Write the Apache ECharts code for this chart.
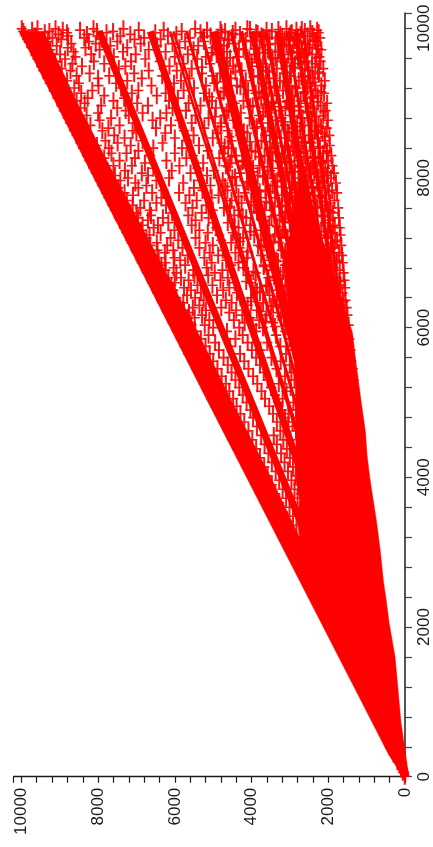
<!DOCTYPE html>
<html><head><meta charset="utf-8">
<style>html,body{margin:0;padding:0;background:#fff}#c{width:433px;height:847px}</style>
<script src="https://cdn.jsdelivr.net/npm/echarts@6/dist/echarts.min.js"></script>
</head><body><div id="c"></div>
<script>
// Each row: n read along the vertical axis, then phi values read along the horizontal axis
const xTicks = [0,2000,4000,6000,8000,10000];
const rows = [
[9992,9988,9580,9110,8120,7340,5470,4110,3090,2470],
[9975,9720,8920,8470,6940,6290,5160,4420,3610,2830,2290],
[9958,9951,9270,8030,7610,5820,4690,3470,2610],
[9941,9390,8810,7780,6510,5330,4780,3880,2950,2250],
[9918,9913,9030,8290,7160,5960,4300,3250,2720],
[9897,9640,8780,7420,6180,5070,3740,3020,2390,2540],
[9871,9190,8360,6800,5610,4870,3530,2880,2210],
[9852,9846,8960,7900,7050,6370,4590,3660,3140],
[9824,9310,8240,7500,5730,5240,4020,2760,2330],
[9795,9480,8700,8060,6890,6060,4450,3380,2600],
[9766,9080,7680,6460,5390,4720,3160,2910,2290],
[9739,9734,8790,8330,7240,5880,5010,3790,2500],
[9712,9250,7960,6680,5510,4210,3570,2680,2180],
[9686,9460,8640,7350,6240,4640,3310,2820],
[9651,8990,8180,7020,5660,4910,3920,3040,2420],
[9618,9330,8590,7590,6000,5190,4370,2640,2230],
[9590,9585,8860,6770,5420,4060,3450,2960],
[9557,9120,8110,7140,6390,4730,3210,2560,2200],
[9526,8670,7840,5780,5080,3700,2870,2340],
[9493,9270,8420,7290,6140,4480,3990,3080],
[9461,8950,7460,5560,4620,3340,2700,2130],
[9434,9429,8720,6680,5950,4260,3620,2520],
[9397,9100,8220,7060,5290,4820,3140,2240],
[9364,8560,7710,6330,5020,3830,2970,2610],
[9331,9180,8000,6860,5620,4540,3420,2400],
[9298,8810,7240,5840,4150,3260,2770,2090],
[9265,9259,8500,7530,6020,4970,3690,2470],
[9233,8880,7990,6610,5190,4380,3010,2180],
[9201,8620,7400,5500,4700,3540,2840,2570],
[9168,9000,8150,6950,5770,4090,3180,2330],
[9132,8440,7120,6240,5240,3890,2650,2110],
[9100,8780,7840,6470,4560,3350,2930,2280],
[9066,9061,8270,7320,5920,4810,3750,2460],
[9030,8560,7600,6150,5030,4210,3060,2720],
[8998,8350,6980,5640,4440,3460,2590,2030],
[8966,8740,7920,6700,5330,3970,2890,2200],
[8935,8460,7500,6060,4930,3640,3120,2390],
[8900,8895,7280,5710,4600,3280,2770,2070],
[8868,8620,8000,6840,6220,4280,3510,2530],
[8834,8300,7200,5460,4710,3810,2980,2130],
[8800,8480,7660,6380,5120,4050,3220,2670],
[8771,7960,6580,5880,4470,3370,2440,2010],
[8735,8730,8390,7040,5560,4790,3570,2810],
[8702,8200,7440,6100,4350,3130,2620,2250],
[8666,8510,7730,6490,5230,3920,2930,2040],
[8630,7890,7100,5760,4620,3450,2730,2340],
[8601,8340,7000,6250,4880,4110,3020,2150],
[8569,8564,7580,5510,4300,3640,2510,1970],
[8534,8220,7310,6000,5010,3240,2800,2270],
[8498,7810,6840,5680,4520,3740,2960,2090],
[8467,8280,7490,6320,4790,3380,2600,2440],
[8433,8030,7150,5370,4170,3120,2700,1960],
[8399,8394,7720,6560,5810,4610,3520,2220],
[8362,8140,6950,5140,4000,2870,2460,2040],
[8330,7650,7260,6000,4730,3300,2640,2130],
[8298,8020,6640,5530,4410,3660,2990,1920],
[8265,7840,7040,5700,4840,3210,2390,2260],
[8232,8227,7440,6220,4220,3450,2800,2000],
[8199,7900,6780,5260,4560,3080,2570,2160],
[8163,7600,7120,5880,4670,3790,2880,1890],
[8130,7980,6560,5410,3960,3290,2450,2080],
[8097,7760,7300,6080,4980,3510,2690,2210],
[8065,8060,6860,5590,4290,3010,2360,1850],
[8032,7560,6700,5160,3840,3160,2610,2040],
[7999,7860,7220,6150,4500,3580,2780,1930],
[7966,7420,6480,5340,4750,3330,2510,2160],
[7933,7690,7030,5780,4080,2920,2290,1800],
[7900,7895,6740,5070,4400,3450,2660,2010],
[7868,7470,6950,5500,3900,3110,2400,2220],
[7834,7680,6300,5280,4630,3640,2830,1900],
[7801,7310,6590,5890,4180,2980,2560,1770],
[7768,7530,7090,5620,4860,3200,2350,2060],
[7735,7730,6350,5040,3760,3390,2700,2160],
[7699,7250,6800,5430,4520,3040,2470,1840],
[7666,7410,6480,5720,4260,3520,2880,1950],
[7633,7100,6230,5180,3940,3210,2600,2090],
[7600,7370,6900,5540,4720,2930,2280,1740],
[7568,7563,6650,5010,4340,3660,2790,2000],
[7533,7000,6070,5300,3830,3120,2520,1880],
[7500,7270,6620,5650,4450,3400,2390,2170],
[7467,6960,6310,5120,4140,2840,2640,1720],
[7434,7429,6700,5460,3690,3270,2440,1950],
[7401,7130,6170,5000,4620,3000,2740,2090],
[7369,6840,6440,5560,4030,3540,2290,1830],
[7335,7090,6550,4920,4340,2900,2530,1700],
[7302,6880,6010,5360,3760,3180,2380,2010],
[7268,7263,6370,5140,4490,2770,2610,1890],
[7237,6960,6660,4840,3930,3390,2230,1680],
[7200,6740,6110,5460,4220,3060,2480,2060],
[7168,6920,5910,4790,3680,2840,2680,1770],
[7135,7130,6470,5200,4530,3290,2350,1930],
[7099,6640,6200,5010,3830,3000,2170,1660],
[7066,6820,5800,5360,4310,2720,2500,1860],
[7033,6450,6040,4750,3590,3220,2270,2020],
[7001,6996,6260,5090,4420,2930,2610,1720],
[6966,6720,5660,4870,3750,3110,2400,1640],
[6933,6420,6010,5230,4120,2790,2160,1920],
[6901,6680,5860,4660,3520,3360,2530,1790],
[6868,6863,6240,5040,4340,2990,2260,1620],
[6835,6350,5730,4530,3680,3130,2660,2030],
[6801,6600,6030,5170,4210,2870,2420,1860],
[6768,6250,5520,4760,3440,3000,2120,1700],
[6732,6727,5960,4960,3890,2680,2330,1600],
[6700,6500,5490,5130,4090,3250,2570,1950],
[6666,6170,5840,4620,3560,2820,2240,1790],
[6633,6410,5640,4810,3360,2990,2460,1580],
[6600,6595,6000,4440,4020,2730,2140,1880],
[6567,6090,5410,5020,3620,3120,2560,1680],
[6533,6320,5760,4580,3900,2840,2300,1560],
[6500,6040,5580,4740,3310,2950,2040,1810],
[6466,6461,5320,4380,3780,2680,2400,1630],
[6433,6250,5680,4900,3530,3030,2200,1920],
[6399,5960,5470,4290,4010,2770,2500,1740],
[6366,6150,5250,4670,3270,2880,2070,1550],
[6333,6328,5780,4520,3700,2630,2330,1850],
[6300,5880,5360,4100,3440,3010,2180,1640],
[6267,6040,5530,4790,3150,2730,2450,1520],
[6233,5760,5190,4400,3860,2890,2010,1780],
[6201,6196,5630,4580,3300,2580,2270,1690],
[6167,5920,5290,4240,3610,2820,2110,1500],
[6133,5660,5480,4030,3160,2680,2370,1750],
[6100,5880,5100,4460,3800,2950,1980,1590],
[6067,6062,5590,4180,3440,2540,2200,1680],
[6033,5570,5220,3970,3030,2760,2060,1470],
[6000,5770,5000,4320,3700,2630,2290,1810],
[5950,5945,5470,4640,3880,3120,2450,1530],
[5900,5560,5120,4230,3360,2860,1960,1640],
[5850,5845,5320,4420,3010,2530,2170,1450],
[5800,5460,4950,4100,3590,2730,1890,1720],
[5750,5745,5200,4560,3250,2450,2060,1560],
[5700,5340,4850,3990,3770,2900,2310,1420],
[5650,5645,5090,4300,3100,2620,1950,1680],
[5600,5240,4730,3880,3480,2750,2150,1500],
[5550,5545,5000,4190,3240,2540,1820,1400],
[5500,5130,4620,3780,3000,2670,2060,1590],
[5450,5445,4890,4080,3350,2470,1750,1360],
[5400,5030,4520,3680,2960,2280,1900,1480],
[5350,5345,4780,3960,3130,2570,1680],
[5300,4930,4420,3580,2880,2180,1830,1340],
[5250,5245,4670,3850,3290,2450,1570],
[5200,4840,4320,3490,2980,2330,1720],
[5150,5145,4580,3740,3090,2530],
[5100,4740,4230,3390,2760,2130],
[5050,5045,4480,3650,3190,2400],
[5000,4640,4130,3300,2910,2250],
[4950,4945,4390,3540,2710],
[4900,4550,4030,3210,2840],
[4850,4845,4290,3440,3040],
[4800,4450,3960,3130,2760],
[4740,4735,4190,3340,2930],
[4680,4340,3860,3040],
[4620,4615,4080,3250,2840],
[4560,4230,3750,3420],
[4500,4495,3980,3170,2990],
[4440,4130,3660,3340],
[4380,4375,3880,3080],
[4320,4030,3560,3230],
[4260,4255,3780,3000],
[4200,3920,3470,3140],
[4140,4135,3670,2920],
[4080,3820,3370,3050],
[4020,4015,3580,2850],
[3960,3720,3280,2960],
[3900,3895,3470,2780],
[3840,3620,3190,2880],
[3780,3775,3380,2710],
[3720,3520,3100,2800],
[3660,3655,3280,2640],
[3600,3420,3010,2710],
[3540,3535,3190,2560],
[3480,3310,2920,2630],
[3420,3140,2700,2490],
[3360,3230,2830,2560],
[3300,3050,2620,2420],
[400,398,120],
[200,198,84],
[60,58,22],
[6,4]
];
// extra marks in the crowded right-hand part of the cloud
const crowdRows = [
[9983,4810,4040,3300,2690],[9931,4490,3840,2980,2420],[9884,5240,3700,3200,2790],[9838,4620,4150,2870,2340],
[9780,4860,3560,3090,2480],[9727,4330,3920,2700,2260],[9671,5040,3640,2940,2550],[9604,4560,3380,2790,2310],
[9541,4750,4000,3140,2610],[9480,5290,3760,2880,2420],[9416,4420,3540,3000,2270],[9349,4660,3950,2700,2480],
[9283,4900,3610,3100,2350],[9217,4290,3400,2860,2540],[9150,4730,3810,2620,2180],[9084,5100,3660,2960,2390],
[9016,4500,3480,3080,2270],[8951,4040,3260,2760,2460],[8884,4650,3700,2530,2120],[8818,4950,3560,2890,2310],
[8751,4370,3200,2950,2430],[8684,4810,3860,2720,2190],[8617,4200,3520,3060,2360],[8550,4580,3340,2820,2090],
[8483,4040,3630,2670,2480],[8416,4700,3130,2920,2230],[8349,3900,3470,2780,2040],[8282,4520,3800,2600,2340],
[8215,4240,3260,3010,2140],[8148,4610,3580,2710,2400],[8081,3960,3100,2870,2010],[8014,4430,3700,2560,2270],
[7950,4120,3380,2950,2100],[7884,4690,3210,2760,2430],[7817,3790,3510,2640,1980],[7750,4340,3000,2860,2200],
[7684,4010,3620,2480,2060],[7617,4560,3270,2720,2310],[7550,3860,3070,2910,1940],[7483,4230,3480,2590,2130],
[7416,3690,3140,2810,2370],[7350,4440,3340,2490,1880],[7283,4030,2960,2670,2180],[7216,3570,3230,2390,2010],
[7150,4300,3430,2840,1820],[7083,3750,2880,2540,2250],[7016,4100,3120,2350,1950],[6950,3460,3010,2730,2090],
[6883,4220,3310,2490,1780],[6816,3680,2910,2620,2190],[6750,3950,3180,2280,1900],[6683,3410,3050,2700,2050],
[6616,4140,2800,2430,1710],[6550,3580,3210,2570,2150],[6483,3860,2980,2230,1830],[6416,3340,2660,2410,1990],
[6350,4010,3100,2770,1600],[6283,3490,2860,2350,2080],[6216,3760,2620,2130,1720],[6150,3230,2940,2480,1920],
[6083,3640,2760,2290,1580],[6016,3390,3070,2540,2010]
];
// densest rays: phi reached near the top of the picture
const rayTopN = 9960;
const rayTopPhi = [7968,6640,4980,3984,3320];
// thinner rays seen as streaks inside the cloud
const streakPhi = [5691,5312,4527,4269,3795,3621,3065,2846,2656,6036,6126];
// solid strip beside the upper edge
const bandN = [0,300,1000,2000,3000,4000,5000,6000,7000,8000,9000,9960];
const bandEdge = [60,430,1130,2130,3130,4130,5130,6120,7110,8110,9100,10060];
const bandInner = [0,230,800,1650,2560,3500,4500,5460,6500,7540,8540,9420];
// solid body near the origin and its tapering dense core
const coreN = [0,718,1600,2055,2362,2600,3000,3400,3700,4000,4300,4600,5000,5500,5932,6800,7400,8000,8300];
const coreLeft = [0,718,1600,2055,2362,2600,2700,2800,2750,2840,2840,2850,2850,2870,2970,3150,2950,2750,2700];
const coreRight = [-100,103,259,414,491,560,640,740,830,920,990,1030,1140,1270,1370,1900,2300,2560,2700];

const RED = '#ff0000';
const INK = '#1a1a1a';
const rayWidths = [7,7,9,6,6];
const streakWidths = [3,3,4,4,3,4,3,4,3,2.5,2.5];
const points = [];
rows.concat(crowdRows).forEach(r=>r.slice(1).forEach(p=>points.push([p,r[0]])));
const polygon = (ns,a,b)=>({type:'custom',coordinateSystem:'cartesian2d',clip:false,silent:true,z:2,
  data:[[0,0]],
  renderItem:(params,api)=>{
    const pts=[];
    ns.forEach((n,i)=>pts.push(api.coord([a[i],n])));
    for(let i=ns.length-1;i>=0;i--)pts.push(api.coord([b[i],ns[i]]));
    return {type:'polygon',shape:{points:pts},style:{fill:RED,stroke:RED,lineWidth:0.5}};
  }});
const ray = (p,w)=>({type:'line',clip:false,silent:true,symbol:'none',z:2,
  data:[[0,0],[p,rayTopN]],lineStyle:{color:RED,width:w,cap:'butt'}});
const chart = echarts.init(document.getElementById('c'),null,{renderer:'canvas'});
const axisBase = {type:'value',min:0,max:10200,interval:400,splitLine:{show:false},
  axisLine:{onZero:false,lineStyle:{color:INK,width:1.4}},
  axisTick:{inside:false,length:6,lineStyle:{color:INK,width:1.2}},
  axisLabel:{show:true,rotate:90,margin:11,fontFamily:'Liberation Sans',fontSize:17,color:INK,
    formatter:v=>xTicks.includes(v)?String(v):''}};
chart.setOption({
  animation:false,
  grid:{left:13.7,right:26,top:13.3,bottom:70.3,containLabel:false},
  xAxis:Object.assign({},axisBase,{position:'bottom',inverse:true}),
  yAxis:Object.assign({},axisBase,{position:'right',
    axisLine:{onZero:false,lineStyle:{color:'#555555',width:2}},
    axisTick:{length:7,lineStyle:{color:'#444444',width:1.2}}}),
  series:[
    polygon(bandN,bandEdge,bandInner),
    polygon(coreN,coreLeft,coreRight),
    ...rayTopPhi.map((p,i)=>ray(p,rayWidths[i])),
    ...streakPhi.map((p,i)=>ray(p,streakWidths[i])),
    {type:'scatter',clip:false,silent:true,z:3,data:points,large:false,
     symbol:'path://M4,0H6V7.7H10V9.3H6V17H4V9.3H0V7.7H4Z',symbolSize:[10,17],
     itemStyle:{color:RED,opacity:0.92}}
  ]
});
</script></body></html>
